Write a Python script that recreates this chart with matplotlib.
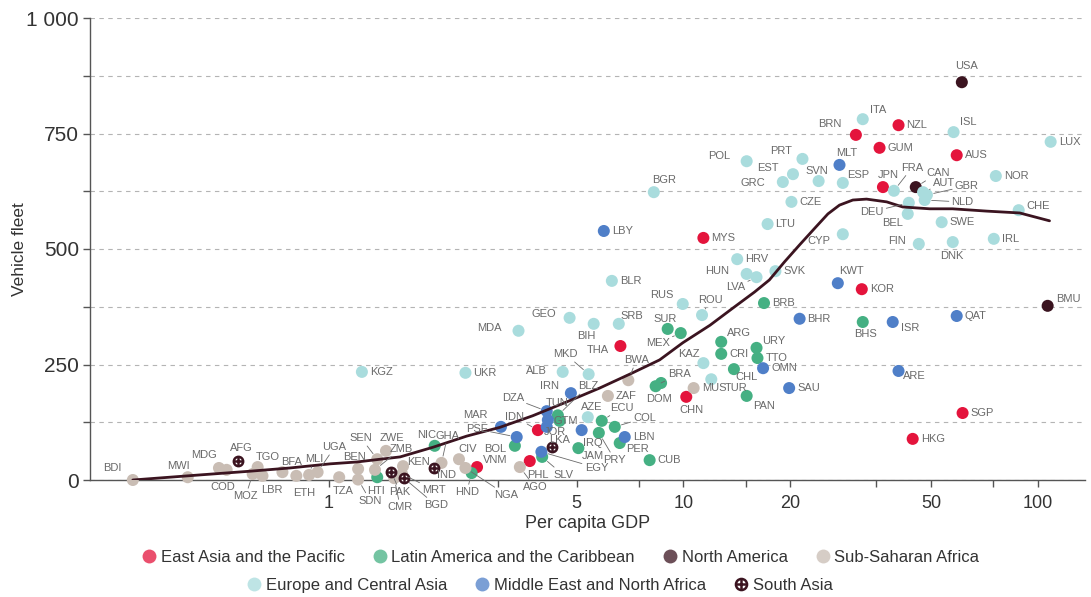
import matplotlib.pyplot as plt
from matplotlib.lines import Line2D

plt.rcParams['font.family'] = ['Liberation Sans', 'DejaVu Sans']

# ---- data (per capita GDP in thousands, vehicles per 1000) ----
ea_codes = ['BRN', 'NZL', 'GUM', 'JPN', 'AUS', 'MYS', 'KOR', 'SGP', 'HKG', 'THA', 'IDN', 'PHL', 'VNM', 'CHN']
ea_gdp = [30.7, 40.5, 35.8, 36.6, 59.1, 11.4, 31.9, 61.4, 44.4, 6.65, 3.89, 3.69, 2.62, 10.2]
ea_fleet = [747, 768, 719, 634, 703, 524, 413, 145, 89, 290, 108, 41, 28, 180]

la_codes = ['BRB', 'BHS', 'SUR', 'MEX', 'ARG', 'URY', 'CRI', 'TTO', 'CHL', 'BRA', 'DOM', 'PAN', 'GTM',
            'BLZ', 'ECU', 'COL', 'PRY', 'PER', 'BOL', 'NIC', 'JAM', 'SLV', 'CUB', 'HND', 'HTI']
la_gdp = [16.9, 32.1, 9.04, 9.84, 12.8, 16.1, 12.8, 16.2, 13.9, 8.66, 8.36, 15.1, 4.48,
          4.43, 5.89, 6.41, 5.78, 6.62, 3.35, 1.99, 5.06, 4.0, 8.04, 2.53, 1.37]
la_fleet = [383, 342, 327, 318, 299, 286, 273, 264, 240, 210, 203, 182, 128,
            140, 128, 115, 102, 80, 74, 74, 69, 50, 43, 15, 6]

na_codes = ['USA', 'CAN', 'BMU']
na_gdp = [61.1, 45.3, 106.7]
na_fleet = [861, 634, 377]

ssa_codes = ['BWA', 'ZAF', 'MUS', 'AGO', 'NGA', 'CIV', 'GHA', 'KEN', 'MRT', 'CMR', 'ZMB', 'ZWE', 'SEN',
             'BEN', 'SDN', 'TZA', 'UGA', 'MLI', 'ETH', 'BFA', 'LBR', 'MOZ', 'TGO', 'COD', 'MDG', 'MWI', 'BDI']
ssa_gdp = [7.0, 6.13, 10.7, 3.46, 2.43, 2.33, 2.08, 1.62, 1.61, 1.53, 1.35, 1.45, 1.37,
           1.21, 1.21, 1.07, 0.93, 0.88, 0.81, 0.74, 0.65, 0.61, 0.63, 0.515, 0.49, 0.40, 0.28]
ssa_fleet = [216, 182, 199, 28, 26, 45, 37, 30, 13, 4, 22, 63, 45,
             24, 1, 6, 17, 11, 9, 17, 9, 13, 28, 22, 26, 6, 0]

eca_codes = ['ITA', 'ISL', 'LUX', 'POL', 'PRT', 'EST', 'GRC', 'SVN', 'ESP', 'NOR', 'BGR', 'FRA', 'AUT',
             'GBR', 'NLD', 'CZE', 'DEU', 'CHE', 'BEL', 'SWE', 'LTU', 'CYP', 'FIN', 'DNK', 'IRL', 'HRV',
             'HUN', 'LVA', 'SVK', 'BLR', 'RUS', 'ROU', 'SRB', 'BIH', 'GEO', 'MDA', 'KAZ', 'TUR', 'UKR',
             'ALB', 'MKD', 'KGZ', 'AZE']
eca_gdp = [32.1, 57.9, 108.8, 15.1, 21.7, 20.4, 19.1, 24.1, 28.2, 76.2, 8.26, 39.3, 47.5,
           48.7, 48.0, 20.2, 43.3, 88.4, 43.0, 53.6, 17.3, 28.2, 46.2, 57.6, 75.2, 14.2,
           15.1, 16.1, 18.2, 6.29, 9.97, 11.3, 6.58, 5.59, 4.78, 3.43, 11.4, 12.0, 2.43,
           4.57, 5.41, 1.24, 5.38]
eca_fleet = [781, 753, 732, 690, 695, 662, 645, 647, 643, 658, 623, 626, 623,
             617, 606, 602, 600, 584, 576, 558, 554, 532, 511, 515, 522, 478,
             446, 439, 452, 431, 381, 357, 338, 338, 351, 323, 253, 218, 232,
             234, 229, 234, 136]

mena_codes = ['MLT', 'LBY', 'KWT', 'QAT', 'BHR', 'ISR', 'ARE', 'OMN', 'SAU', 'IRN', 'DZA', 'TUN', 'JOR',
              'MAR', 'PSE', 'IRQ', 'LBN', 'EGY']
mena_gdp = [27.6, 5.97, 27.3, 59.1, 21.3, 39.0, 40.5, 16.8, 19.9, 4.82, 4.12, 4.15, 4.12,
            3.06, 3.39, 5.17, 6.84, 3.98]
mena_fleet = [682, 539, 426, 355, 349, 342, 236, 242, 199, 188, 149, 130, 115,
              115, 93, 108, 93, 61]

sa_codes = ['AFG', 'PAK', 'BGD', 'IND', 'LKA']
sa_gdp = [0.554, 1.50, 1.63, 1.98, 4.25]
sa_fleet = [41, 17, 4, 26, 71]

# fitted trend line, read point by point
trend_gdp = [0.28, 0.433, 0.599, 0.776, 1.01, 1.20, 1.59, 1.97, 2.45, 3.04, 3.76, 4.69, 5.81,
             7.20, 8.58, 9.97, 11.9, 13.8, 15.9, 17.5, 19.3, 21.3, 23.5, 25.6, 27.6, 30.1,
             32.9, 37.5, 41.6, 49.6, 57.5, 71.8, 89.0, 108]
trend_fleet = [0, 11, 19, 26, 35, 39, 50, 71, 95, 114, 139, 169, 199,
               232, 260, 297, 335, 372, 407, 433, 472, 509, 545, 576, 595, 606,
               608, 602, 591, 587, 587, 582, 578, 561]

# label placement (pixels from point centre to text centre, leader line flag)
label_pos = {
    'BDI': (-21, 12, 0), 'MWI': (-9, 11, 0), 'MDG': (-15, 13, 0), 'COD': (-4, -17, 0),
    'AFG': (3, 13, 0), 'TGO': (10, 10, 0), 'MOZ': (-7, -22, 1), 'LBR': (9, -14, 0),
    'BFA': (9, 10, 0), 'ETH': (8, -17, 0), 'MLI': (5, 16, 1), 'UGA': (17, 25, 1),
    'TZA': (4, -14, 0), 'BEN': (-4, 12, 0), 'SDN': (12, -21, 1), 'SEN': (-16, 21, 1),
    'ZWE': (6, 13, 0), 'ZMB': (26, 21, 1), 'HTI': (-1, -14, 0), 'PAK': (9, -20, 1),
    'CMR': (6, -29, 1), 'KEN': (15, 4, 0), 'MRT': (32, -16, 1), 'BGD': (32, -27, 1),
    'IND': (13, -7, 0), 'GHA': (6, 27, 1), 'NIC': (-8, 11, 0), 'CIV': (9, 10, 0),
    'HND': (-5, -19, 1), 'VNM': (18, 7, 0), 'NGA': (41, -27, 1), 'BOL': (-20, -3, 0),
    'PSE': (-40, 8, 1), 'MAR': (-26, 12, 0), 'IDN': (-23, 13, 1), 'DZA': (-34, 13, 1),
    'TUN': (9, 17, 0), 'JOR': (8, -5, 0), 'GTM': (6, 0, 0), 'LKA': (8, 7, 0),
    'SLV': (21, -18, 1), 'EGY': (55, -16, 1), 'PHL': (8, -14, 0), 'AGO': (15, -20, 1),
    'IRN': (-21, 7, 0), 'BLZ': (30, 29, 1), 'AZE': (4, 10, 0), 'ECU': (20, 13, 1),
    'IRQ': (11, -13, 0), 'JAM': (14, -8, 0), 'COL': (30, 9, 1), 'PRY': (16, -27, 1),
    'PER': (18, -6, 0), 'BWA': (8, 20, 1), 'DOM': (3, -13, 0), 'BRA': (18, 9, 1),
    'CHN': (5, -13, 0), 'TUR': (25, -9, 0), 'KAZ': (-15, 9, 0), 'PAN': (17, -10, 0),
    'CHL': (13, -8, 0), 'URY': (17, 7, 0), 'ARG': (18, 9, 0), 'ROU': (8, 15, 1),
    'RUS': (-21, 9, 0), 'SUR': (-3, 10, 0), 'MEX': (-23, -10, 1), 'SRB': (13, 8, 0),
    'THA': (-23, -4, 0), 'BIH': (-7, -12, 0), 'GEO': (-26, 4, 0), 'MDA': (-29, 3, 0),
    'ALB': (-26, 1, 0), 'MKD': (-23, 20, 1), 'BGR': (10, 12, 0), 'POL': (-27, 5, 0),
    'PRT': (-21, 8, 0), 'EST': (-25, 6, 0), 'GRC': (-30, -1, 0), 'SVN': (-2, 10, 0),
    'MLT': (7, 12, 0), 'HUN': (-30, 3, 0), 'LVA': (-21, -10, 1), 'CYP': (-24, -7, 0),
    'ESP': (15, 8, 0), 'ITA': (15, 9, 0), 'BRN': (-26, 11, 0), 'JPN': (5, 12, 0),
    'FRA': (18, 23, 1), 'CAN': (22, 14, 1), 'AUT': (21, 9, 1), 'GBR': (40, 9, 1),
    'NLD': (38, -2, 1), 'DEU': (-37, -9, 1), 'BEL': (-15, -9, 0), 'FIN': (-22, 3, 0),
    'DNK': (-1, -14, 0), 'ISL': (15, 10, 0), 'USA': (5, 16, 0), 'CHE': (19, 4, 0),
    'BMU': (21, 7, 0), 'ARE': (16, -5, 0), 'ISR': (17, -6, 0), 'BHS': (3, -12, 0),
    'KWT': (14, 12, 0),
}

dark = '#3b1420'
regions = [
    ('East Asia and the Pacific', ea_codes, ea_gdp, ea_fleet, '#e4143c'),
    ('Latin America and the Caribbean', la_codes, la_gdp, la_fleet, '#45b083'),
    ('North America', na_codes, na_gdp, na_fleet, dark),
    ('Sub-Saharan Africa', ssa_codes, ssa_gdp, ssa_fleet, '#c9bdb4'),
    ('Europe and Central Asia', eca_codes, eca_gdp, eca_fleet, '#a9dcdd'),
    ('Middle East and North Africa', mena_codes, mena_gdp, mena_fleet, '#4f7fc8'),
]

fig = plt.figure(figsize=(10.91, 5.97), dpi=100)
ax = fig.add_axes([90 / 1091, 117 / 597, 995 / 1091, 462 / 597])
ax.set_xscale('log')
ax.set_xlim(0.212, 136)
ax.set_ylim(0, 1000)

for spine in ['top', 'right']:
    ax.spines[spine].set_visible(False)
for spine in ['left', 'bottom']:
    ax.spines[spine].set_color('#555555')
    ax.spines[spine].set_linewidth(1.0)

ax.set_yticks([0, 250, 500, 750, 1000])
ax.set_yticklabels(['0', '250', '500', '750', '1 000'])
ax.set_yticks([125, 375, 625, 875], minor=True)
ax.set_xticks([1, 5, 10, 20, 50, 100])
ax.set_xticklabels(['1', '5', '10', '20', '50', '100'])
ax.set_xticks([3, 7.5, 15, 35, 75], minor=True)
ax.xaxis.set_minor_formatter(plt.NullFormatter())
ax.tick_params(axis='both', which='both', length=5, width=1, color='#555555')
ax.tick_params(axis='y', labelsize=15, labelcolor='#333333', pad=3)
ax.tick_params(axis='x', labelsize=13, labelcolor='#333333', pad=6)
ax.grid(axis='y', which='both', ls=(0, (4, 4)), color='#b4b4b4', lw=0.8)
ax.set_axisbelow(True)

ax.set_xlabel('Per capita GDP', fontsize=13, color='#333333', labelpad=2)
ax.set_ylabel('Vehicle fleet', fontsize=12.5, color='#333333')
ax.yaxis.set_label_coords(-0.063, 0.5)

ax.plot(trend_gdp, trend_fleet, color=dark, lw=2, zorder=5, solid_capstyle='round')

handles = []
for name, codes, gdp, fleet, col in regions:
    ax.scatter(gdp, fleet, s=75, color=col, edgecolors='none', zorder=3, clip_on=False)
    handles.append(Line2D([], [], marker='o', ls='none', ms=10, color=col, alpha=0.75, mec='none'))

ax.scatter(sa_gdp, sa_fleet, s=45, facecolors='white', edgecolors=dark, linewidths=1.8, zorder=4, clip_on=False)
ax.scatter(sa_gdp, sa_fleet, s=60, marker='+', color=dark, linewidths=1.8, zorder=4, clip_on=False)
sa_handle = (Line2D([], [], marker='o', ls='none', ms=8, mfc='white', mec=dark, mew=1.8),
             Line2D([], [], marker='+', ls='none', ms=9, color=dark, mew=1.8))

all_codes = ea_codes + la_codes + na_codes + ssa_codes + eca_codes + mena_codes + sa_codes
all_gdp = ea_gdp + la_gdp + na_gdp + ssa_gdp + eca_gdp + mena_gdp + sa_gdp
all_fleet = ea_fleet + la_fleet + na_fleet + ssa_fleet + eca_fleet + mena_fleet + sa_fleet
for code, x, y in zip(all_codes, all_gdp, all_fleet):
    if code in label_pos:
        dx, dy, lead = label_pos[code]
        arrow = dict(arrowstyle='-', color='#6a6a6a', lw=0.6, shrinkA=0, shrinkB=5) if lead else None
        ax.annotate(code, xy=(x, y), xytext=(dx, dy), textcoords='offset pixels',
                    ha='center', va='center', fontsize=8, color='#6a6a6a',
                    arrowprops=arrow, annotation_clip=False, zorder=6)
    else:
        ax.annotate(code, xy=(x, y), xytext=(8, 0), textcoords='offset pixels',
                    ha='left', va='center', fontsize=8, color='#6a6a6a',
                    annotation_clip=False, zorder=6)

names = [r[0] for r in regions]
leg1 = fig.legend(handles[:4], names[:4], loc='center', bbox_to_anchor=(0.514, 0.067), ncol=4,
                  frameon=False, fontsize=12, handlelength=0.8, handletextpad=0.3,
                  columnspacing=1.7, labelcolor='#333333')
leg2 = fig.legend(handles[4:] + [sa_handle], names[4:] + ['South Asia'], loc='center',
                  bbox_to_anchor=(0.495, 0.020), ncol=3, frameon=False, fontsize=12,
                  handlelength=0.8, handletextpad=0.3, columnspacing=1.7, labelcolor='#333333')

fig.savefig('out.png', dpi=100)
